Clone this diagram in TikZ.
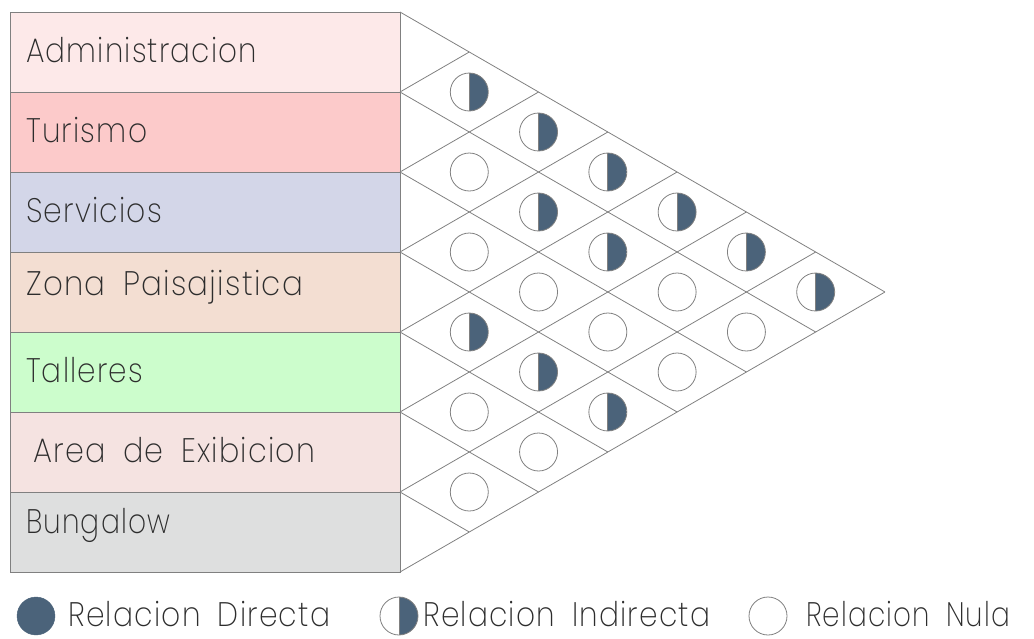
\documentclass[tikz,border=0pt]{standalone}
\usepackage{fontspec}
\setmainfont{Poppins}[UprightFont={* ExtraLight},WordSpace=1.8,LetterSpace=4]
\usepackage{graphicx}
\definecolor{linegray}{RGB}{128,128,128}
\definecolor{slate}{RGB}{75,99,122}
\definecolor{txtgray}{RGB}{45,45,45}
\definecolor{cAdm}{RGB}{253,233,233}
\definecolor{cTur}{RGB}{252,202,202}
\definecolor{cSer}{RGB}{211,214,232}
\definecolor{cZon}{RGB}{243,222,210}
\definecolor{cTal}{RGB}{204,253,204}
\definecolor{cAre}{RGB}{245,227,225}
\definecolor{cBun}{RGB}{222,223,223}
\newsavebox\lblbox
\newcommand\fitw[2]{\sbox\lblbox{#2}\pgfmathsetmacro\myfac{#1/\wd\lblbox}\scalebox{\myfac}[1]{\usebox\lblbox}}
\tikzset{
  rowbox/.style={rectangle, draw=linegray, line width=0.9pt, minimum width=390, minimum height=80, inner sep=0},
  lbl/.style={anchor=base west, inner sep=0, text=txtgray, font=\fontsize{34}{40}\selectfont},
  grid/.style={draw=linegray, line width=0.8pt},
  nul/.style={circle, draw=linegray, line width=0.8pt, minimum size=38, inner sep=0, fill=white},
  half/.style={nul, path picture={\fill[slate] (path picture bounding box.north) rectangle (path picture bounding box.south east);
      \draw[linegray, line width=0.8pt] (path picture bounding box.north) -- (path picture bounding box.south);}},
  full/.style={circle, draw=slate, fill=slate, minimum size=38, inner sep=0},
}
\begin{document}
\begin{tikzpicture}[x=1pt,y=-1pt]
\useasboundingbox (0,0) rectangle (1034,638);
% row boxes
\foreach \k/\c in {0/cAdm,1/cTur,2/cSer,3/cZon,4/cTal,5/cAre,6/cBun}{
  \node[rowbox, fill=\c] (r\k) at (205,{52+80*\k}) {};
}
% labels
\node[lbl] (t0) at (26,62) {\fitw{231}{Administracion}};
\node[lbl] (t1) at (26,142) {\fitw{121}{Turismo}};
\node[lbl] (t2) at (26,222) {\fitw{136}{Servicios}};
\node[lbl] (t3) at (26,295) {\fitw{277}{Zona Paisajistica}};
\node[lbl] (t4) at (26,382) {\fitw{117}{Talleres}};
\node[lbl] (t5) at (33,462) {\fitw{282}{Area de Exibicion}};
\node[lbl] (t6) at (26,533) {\fitw{144}{Bungalow}};
% triangle grid
\def\h{69.282}
\coordinate (apex) at (885,292);
\foreach \k in {0,...,7}{
  \coordinate (L\k) at (400,{12+80*\k});
  \draw[grid] (L\k) -- ++({\h*(7-\k)},{40*(7-\k)});
  \draw[grid] (L\k) -- ++({\h*\k},{-40*\k});
}
% cells: i/j/type
\foreach \i/\j/\t in {0/1/half,1/2/nul,2/3/nul,3/4/half,4/5/nul,5/6/nul,
  0/2/half,1/3/half,2/4/nul,3/5/half,4/6/nul,
  0/3/half,1/4/half,2/5/nul,3/6/half,
  0/4/half,1/5/nul,2/6/nul,
  0/5/half,1/6/nul,
  0/6/half}{
  \node[\t] (c\i\j) at ({400+\h*(\j-\i)},{12+40*(\i+\j+1)}) {};
}
% legend
\node[full] (lg1) at (36,616) {};
\node[lbl] (lt1) at (68,626) {\fitw{262}{Relacion Directa}};
\node[half] (lg2) at (399,616) {};
\node[lbl] (lt2) at (423,626) {\fitw{287}{Relacion Indirecta}};
\node[nul] (lg3) at (768,616) {};
\node[lbl] (lt3) at (806,626) {\fitw{204}{Relacion Nula}};
\end{tikzpicture}
\end{document}
